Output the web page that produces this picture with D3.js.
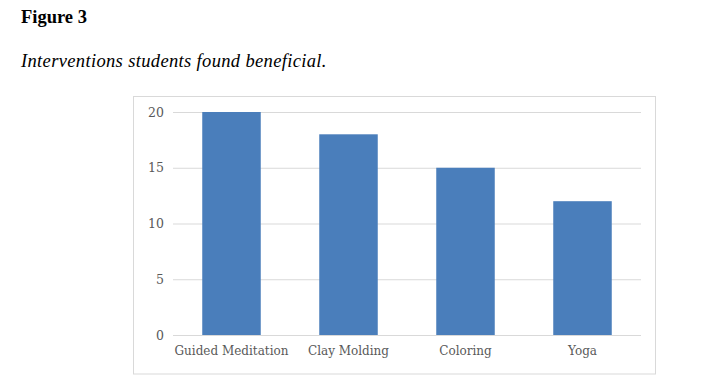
<!DOCTYPE html>
<html>
<head>
<meta charset="utf-8">
<script src="https://cdn.jsdelivr.net/npm/d3@7"></script>
<style>
html, body { margin: 0; padding: 0; background: #fff; }
svg { display: block; }
</style>
</head>
<body>
<svg id="chart" width="727" height="392"></svg>
<script>
const categories = ["Guided Meditation", "Clay Molding", "Coloring", "Yoga"];
const values = [20, 18, 15, 12];
const yTicks = [0, 5, 10, 15, 20];
const figureLabel = "Figure 3";
const caption = "Interventions students found beneficial.";

(function () {
const svg = d3.select("#chart");
svg.append("rect").attr("width", 727).attr("height", 392).attr("fill", "#fff");

svg.append("text").attr("x", 21).attr("y", 23)
  .attr("font-family", "'Liberation Serif', 'Times New Roman', serif")
  .attr("font-weight", "bold").attr("font-size", 18.5).attr("fill", "#000")
  .text(figureLabel);

svg.append("text").attr("x", 21).attr("y", 67)
  .attr("font-family", "'Liberation Serif', 'Times New Roman', serif")
  .attr("font-style", "italic").attr("font-size", 18.5).attr("fill", "#000")
  .attr("letter-spacing", 0.35)
  .text(caption);

// chart frame
svg.append("rect").attr("x", 133.5).attr("y", 96.5).attr("width", 522).attr("height", 277.5)
  .attr("fill", "#fff").attr("stroke", "#d9d9d9").attr("stroke-width", 1);

const plotLeft = 173, plotRight = 641, plotTop = 112, plotBottom = 335;
const x = d3.scaleBand().domain(categories).range([plotLeft, plotRight]).paddingInner(0.5).paddingOuter(0.25);
const y = d3.scaleLinear().domain([0, 20]).range([plotBottom, plotTop]);

const font = "'DejaVu Serif', serif";

// gridlines
const yAxis = d3.axisLeft(y).tickValues(yTicks).tickSize(-(plotRight - plotLeft)).tickPadding(9);
const gy = svg.append("g").attr("transform", `translate(${plotLeft},0)`).call(yAxis);
gy.select(".domain").remove();
gy.selectAll(".tick line").attr("stroke", "#d9d9d9").attr("stroke-width", 1);
gy.selectAll(".tick text").attr("font-family", font).attr("font-size", 12.5).attr("fill", "#595959");

// bars
svg.append("g").selectAll("rect").data(values).join("rect")
  .attr("x", (d, i) => x(categories[i]))
  .attr("y", d => y(d))
  .attr("width", x.bandwidth())
  .attr("height", d => y(0) - y(d))
  .attr("fill", "#4a7ebb");

// x axis labels
const xAxis = d3.axisBottom(x).tickSize(0).tickPadding(11);
const gx = svg.append("g").attr("transform", `translate(0,${plotBottom})`).call(xAxis);
gx.select(".domain").remove();
gx.selectAll(".tick text").attr("font-family", font).attr("font-size", 12).attr("fill", "#595959");
})();
</script>
</body>
</html>
